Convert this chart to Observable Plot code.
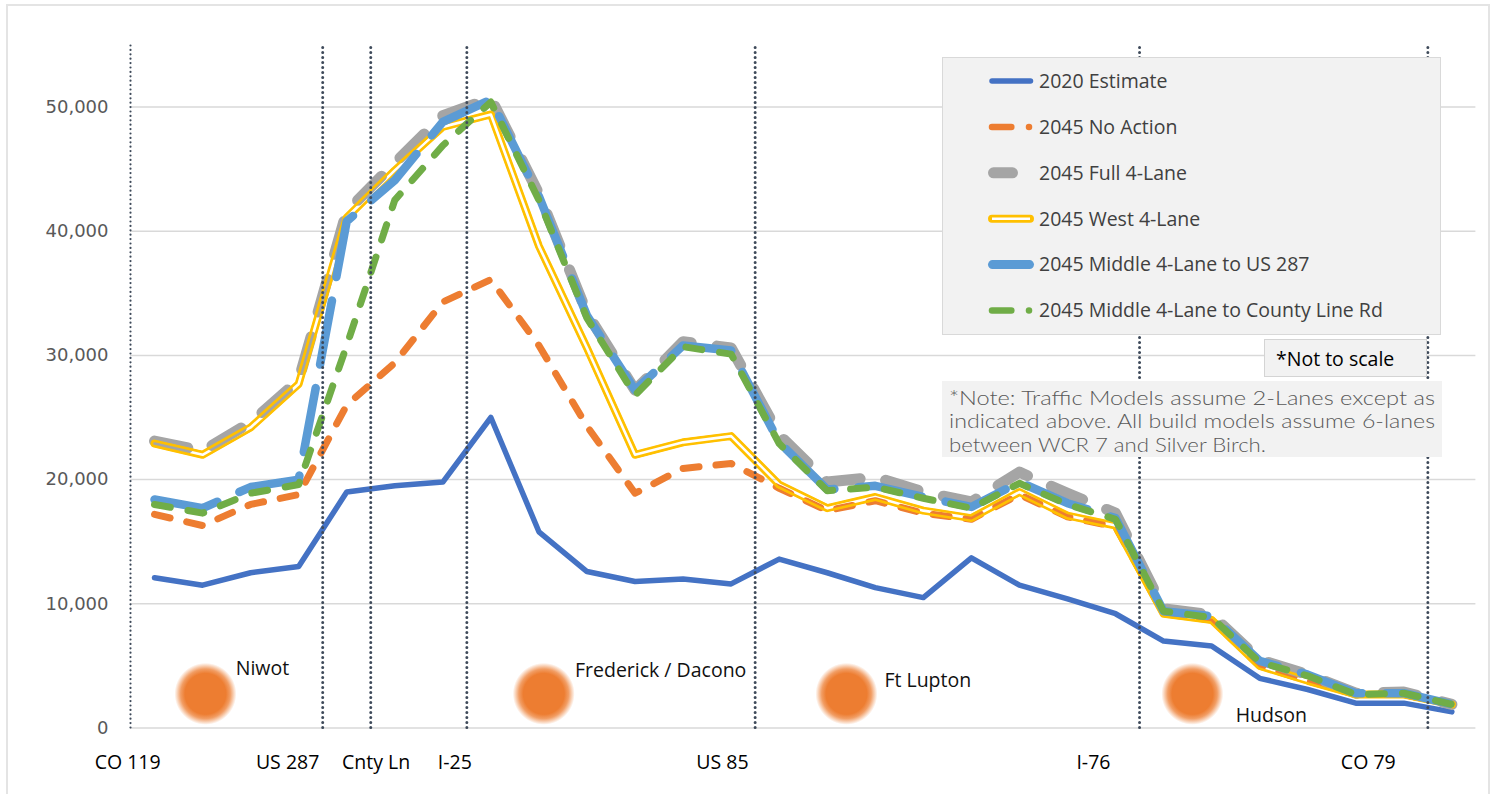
<!DOCTYPE html>
<html><head><meta charset="utf-8">
<script src="https://cdn.jsdelivr.net/npm/d3@7"></script>
<script src="https://cdn.jsdelivr.net/npm/@observablehq/plot@0.6"></script>
<style>
html,body{margin:0;padding:0;background:#fff;}
#wrap{position:relative;width:1496px;height:794px;overflow:hidden;}
#frame{position:absolute;left:6px;top:4px;width:1484px;height:810px;border:2px solid #e4e4e4;box-sizing:border-box;}
#chart{position:absolute;left:0;top:0;}
.ov{position:absolute;overflow:visible;}
</style></head><body>
<div id="wrap"><div id="frame"></div><div id="chart"></div></div>
<script>
// ---------- data ----------
const segments = d3.range(28);
const seriesNames = ["2020 Estimate","2045 No Action","2045 Full 4-Lane","2045 West 4-Lane","2045 Middle 4-Lane to US 287","2045 Middle 4-Lane to County Line Rd"];
const est2020  = [12100,11500,12500,13000,19000,19500,19800,25000,15800,12600,11800,12000,11600,13600,12500,11300,10500,13700,11500,10400,9200,7000,6600,4000,3100,2000,2000,1300];
const noAction = [17200,16300,18000,18800,26000,29400,34300,36100,30800,24300,18900,20900,21300,19300,17500,18300,17300,16800,18800,17000,16200,9200,8700,5000,3800,2700,2700,1900];
const full4    = [23100,22300,24600,28000,41600,45500,49300,50700,43000,33400,27200,31100,30600,23600,19800,20200,19000,18200,20600,18900,17300,9600,9100,5500,4300,2800,2900,1900];
const west4    = [22900,22000,24200,27700,41100,44900,48400,49400,38800,30600,22000,23000,23500,19600,17700,18600,17500,16900,19000,17100,16300,9200,8700,5000,3800,2700,2700,1900];
const mid287   = [18400,17700,19400,20000,40800,44100,48800,50600,42800,33200,27200,30800,30400,23000,19200,19500,18600,17800,19800,18100,16900,9400,9000,5400,4300,2800,2800,1900];
const midCLR   = [18000,17300,18900,19600,30800,42500,46900,50400,42500,33000,26800,30700,30100,22900,19100,19400,18500,17700,19700,18000,16800,9400,8900,5300,4200,2700,2800,1900];

const boundaryPos = [-0.5, 3.5, 4.5, 6.5, 12.5, 20.5, 26.5];
const xLabels   = ["CO 119","US 287","Cnty Ln","I-25","US 85","I-76","CO 79"];
const xLabelPos = [-0.56, 2.77, 4.61, 6.25, 11.82, 19.54, 25.26];
const yTicks = [0,10000,20000,30000,40000,50000];

const towns      = ["Niwot","Frederick / Dacono","Ft Lupton","Hudson"];
const townLabelX = [1.69, 8.75, 15.19, 22.5];
const townLabelY = [4770, 4630, 3820, 1000];
const townDotX   = [1.06, 8.10, 14.40, 21.60];
const townDotY   = [2750, 2750, 2750, 2750];

const noteLines = ["*Note: Traffic Models assume 2-Lanes except as","indicated above. All build models assume 6-lanes","between WCR 7 and Silver Birch."];
const noteWidths = [486, 486, 317];
const notToScale = "*Not to scale";

// ---------- build ----------
const rows = vals => segments.map((s, i) => ({x: s, y: vals[i]}));
const FONT = "'Open Sans', 'Noto Sans', sans-serif";
const WEST = "#FFC000";
const townRows = towns.map((t, i) => ({t, x: townLabelX[i], y: townLabelY[i]}));
const dotRows = townDotX.map((x, i) => ({x, y: townDotY[i]}));
const xLabRows = xLabels.map((t, i) => ({t, x: xLabelPos[i]}));

const chart = Plot.plot({
  width: 1496, height: 794,
  marginLeft: 130, marginRight: 20.6, marginTop: 44.4, marginBottom: 66.5,
  x: {domain: [-0.5, 27.5], axis: null},
  y: {domain: [0, 55000], axis: null},
  style: {background: "transparent", overflow: "visible"},
  marks: [
    Plot.ruleY(yTicks, {stroke: "#d9d9d9", strokeWidth: 1.5}),
    Plot.text(yTicks, {x: -0.5, y: d => d, text: d => d3.format(",")(d), textAnchor: "end", dx: -22,
      fontSize: 18, fontFamily: "'DejaVu Sans', sans-serif", fill: "#595959"}),
    Plot.dot(dotRows, {x: "x", y: "y", r: 31, fill: "url(#glow)"}),
    Plot.line(rows(est2020),  {x: "x", y: "y", stroke: "#4472C4", strokeWidth: 5.5}),
    Plot.line(rows(noAction), {x: "x", y: "y", stroke: "#ED7D31", strokeWidth: 7, strokeDasharray: "16,17"}),
    Plot.line(rows(full4),    {x: "x", y: "y", stroke: "#A5A5A5", strokeWidth: 11, strokeDasharray: "34,26"}),
    Plot.line(rows(west4),    {x: "x", y: "y", stroke: WEST, strokeWidth: 8}),
    Plot.line(rows(mid287),   {x: "x", y: "y", stroke: "#5B9BD5", strokeWidth: 8.5, strokeDasharray: "65,24"}),
    Plot.line(rows(midCLR),   {x: "x", y: "y", stroke: "#70AD47", strokeWidth: 7, strokeDasharray: "16,18"}),
    Plot.ruleX(boundaryPos.slice(0, 1), {y1: 0, y2: 55000, stroke: "#3E4A5A", strokeWidth: 2.2, strokeDasharray: "0,4.4", strokeLinecap: "round"}),
    Plot.ruleX(boundaryPos.slice(1), {y1: 0, y2: 55000, stroke: "#3E4A5A", strokeWidth: 3, strokeDasharray: "0,5", strokeLinecap: "round"}),
    Plot.text(townRows, {x: "x", y: "y", text: "t", textAnchor: "start", fontSize: 19.5, fontFamily: FONT,
      fill: "#111", stroke: "white", strokeWidth: 10}),
    Plot.text(xLabRows, {x: "x", y: 0, dy: 35.2, text: "t", fontSize: 19.5, fontFamily: FONT, fill: "#000"})
  ]
});

// defs: glow gradient + transparent-gap mask for the double yellow line
const svgSel = d3.select(chart);
const defs = svgSel.insert("defs", ":first-child");
const grad = defs.append("radialGradient").attr("id", "glow");
[[0, 1], [0.66, 1], [0.8, 0.75], [0.92, 0.3], [1, 0]].forEach(([o, a]) =>
  grad.append("stop").attr("offset", o).attr("stop-color", "#ED7D31").attr("stop-opacity", a));
const westG = chart.querySelector(`g[stroke="${WEST}"]`);
const westPath = westG && westG.querySelector("path");
if (westPath) {
  const d = westPath.getAttribute("d");
  const m = defs.append("mask").attr("id", "westMask")
    .attr("maskUnits", "userSpaceOnUse").attr("maskContentUnits", "userSpaceOnUse")
    .attr("x", -20).attr("y", -20).attr("width", 1540).attr("height", 840);
  m.append("path").attr("d", d).attr("fill", "none").attr("stroke", "white").attr("stroke-width", 9)
    .attr("stroke-linejoin", "round").attr("stroke-linecap", "round");
  m.append("path").attr("d", d).attr("fill", "none").attr("stroke", "black").attr("stroke-width", 2.6)
    .attr("stroke-linejoin", "round").attr("stroke-linecap", "round");
  westPath.setAttribute("mask", "url(#westMask)");
}
document.getElementById("chart").appendChild(chart);

// ---------- legend overlay ----------
const wrap = d3.select("#wrap");
const leg = wrap.append("svg").attr("class", "ov").style("left", "942px").style("top", "57px")
  .attr("width", 499).attr("height", 278);
leg.append("rect").attr("x", 0.5).attr("y", 0.5).attr("width", 498).attr("height", 277)
  .attr("fill", "#f2f2f2").attr("stroke", "#d9d9d9");
const styles = [
  {c: "#4472C4", w: 5.5, kind: "solid", x1: 50, x2: 88.5},
  {c: "#ED7D31", w: 6.5, kind: "dashdot", x1: 50, x2: 69.3, dot: 87},
  {c: "#A5A5A5", w: 11, kind: "solid", x1: 51.5, x2: 70.5},
  {c: WEST, w: 8, kind: "double", x1: 50, x2: 88},
  {c: "#5B9BD5", w: 9, kind: "solid", x1: 50.5, x2: 87.5},
  {c: "#70AD47", w: 6.5, kind: "dashdot", x1: 50, x2: 69.3, dot: 87}
];
seriesNames.forEach((name, i) => {
  const y = 24 + i * 45.9;
  const s = styles[i];
  leg.append("line").attr("x1", s.x1).attr("x2", s.x2).attr("y1", y).attr("y2", y)
    .attr("stroke", s.c).attr("stroke-width", s.w).attr("stroke-linecap", "round");
  if (s.kind === "double") {
    leg.append("line").attr("x1", s.x1).attr("x2", s.x2).attr("y1", y).attr("y2", y)
      .attr("stroke", "#fff").attr("stroke-width", 2.6);
  }
  if (s.kind === "dashdot") {
    leg.append("circle").attr("cx", s.dot).attr("cy", y).attr("r", s.w / 2).attr("fill", s.c);
  }
  leg.append("text").attr("x", 97).attr("y", y).attr("dy", "0.35em").attr("font-family", FONT)
    .attr("font-size", 19.5).attr("fill", "#404040").text(name);
});

// ---------- "*Not to scale" box ----------
const nts = wrap.append("svg").attr("class", "ov").style("left", "1264px").style("top", "339px")
  .attr("width", 164).attr("height", 39);
nts.append("rect").attr("x", 0.5).attr("y", 0.5).attr("width", 162).attr("height", 37)
  .attr("fill", "#f2f2f2").attr("stroke", "#d4d4d4");
nts.append("text").attr("x", 12).attr("y", 20).attr("dy", "0.35em").attr("font-family", FONT)
  .attr("font-size", 19.5).attr("fill", "#000").text(notToScale);

// ---------- note box ----------
const note = wrap.append("svg").attr("class", "ov").style("left", "942px").style("top", "381px")
  .attr("width", 500).attr("height", 76);
note.append("rect").attr("width", 500).attr("height", 76).attr("fill", "#f2f2f2");
noteLines.forEach((t, i) => {
  note.append("text").attr("x", 7).attr("y", 17 + i * 23.5).attr("dy", "0.35em")
    .attr("font-family", "Lato, 'Noto Sans', sans-serif").attr("font-weight", 300)
    .attr("font-size", 19).attr("fill", "#595959")
    .attr("textLength", noteWidths[i]).attr("lengthAdjust", "spacingAndGlyphs").text(t);
});
</script>
</body></html>
